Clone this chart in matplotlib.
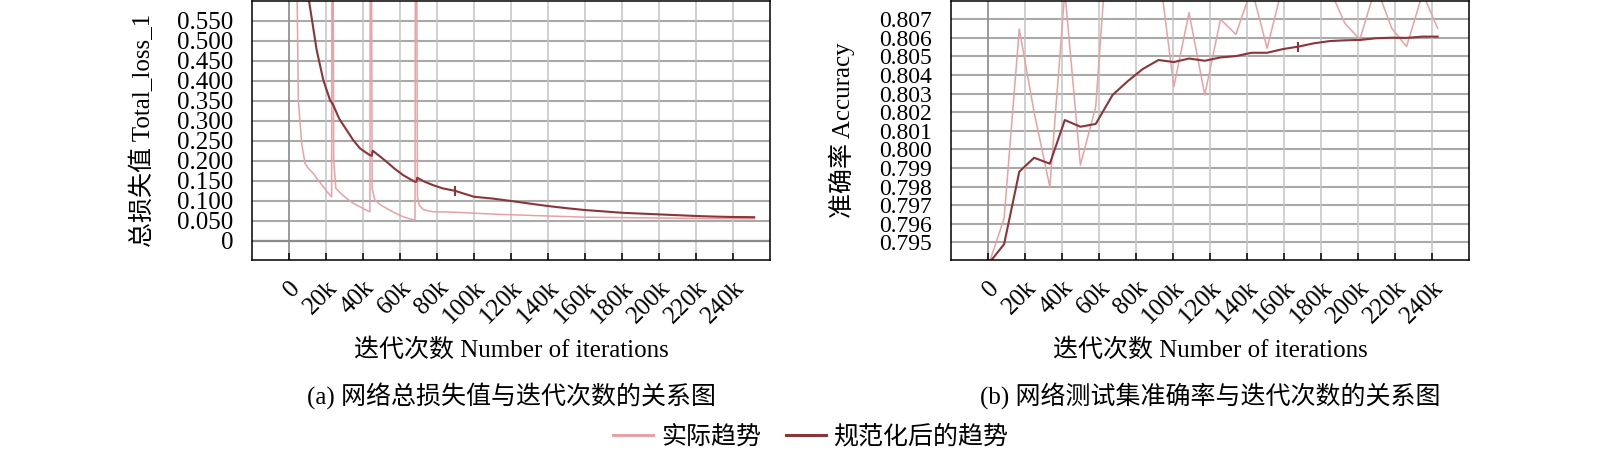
import matplotlib
matplotlib.use("Agg")
import matplotlib.pyplot as plt

plt.rcParams['font.family'] = ['Liberation Serif', 'Noto Sans CJK SC']
plt.rcParams['font.size'] = 18

RAW = '#e6a2a6'
SMOOTH = '#8a3539'

# iterations in thousands
x_ticks = [0, 20, 40, 60, 80, 100, 120, 140, 160, 180, 200, 220, 240]
x_tick_labels = ['0', '20k', '40k', '60k', '80k', '100k', '120k', '140k',
                 '160k', '180k', '200k', '220k', '240k']

loss_ticks = [0, 0.05, 0.10, 0.15, 0.20, 0.25, 0.30, 0.35, 0.40, 0.45, 0.50, 0.55]
loss_tick_labels = ['0', '0.050', '0.100', '0.150', '0.200', '0.250', '0.300',
                    '0.350', '0.400', '0.450', '0.500', '0.550']
acc_ticks = [0.795, 0.796, 0.797, 0.798, 0.799, 0.800, 0.801, 0.802, 0.803,
             0.804, 0.805, 0.806, 0.807]
acc_tick_labels = ['%.3f' % t for t in acc_ticks]

# raw total loss (restarts give the spikes)
loss_raw_x = [3.5, 4.9, 6.7, 8.5, 10.5, 13, 15.5, 18.4, 20.5, 22.9, 23.3, 24.0,
              25.2, 28, 31, 34.5, 38.2, 41, 43.6, 44.0, 44.8, 46.3, 49, 52.6,
              57, 61.6, 65, 68, 68.4, 69.3, 70.3, 72.4, 75, 77.8, 85, 92.3,
              100, 114, 130, 140, 160, 180, 200, 220, 251.4]
loss_raw_y = [0.9, 0.352, 0.2435, 0.1935, 0.18, 0.1685, 0.152, 0.135, 0.122,
              0.11, 1.5, 0.2, 0.131, 0.118, 0.106, 0.094, 0.085, 0.078, 0.0725,
              1.5, 0.13, 0.1018, 0.091, 0.081, 0.07, 0.06, 0.055, 0.052, 1.5,
              0.11, 0.089, 0.0785, 0.075, 0.0725, 0.072, 0.071, 0.069, 0.066,
              0.0635, 0.062, 0.059, 0.058, 0.057, 0.056, 0.055]

# smoothed total loss
loss_smooth_x = [10.0, 14.8, 18.4, 22.0, 23.0, 23.8, 27, 31, 34.5, 38.2, 41,
                 43.6, 44.6, 45.1, 48.5, 52.6, 57, 61.6, 65, 68, 68.8, 69.2,
                 73, 77.8, 83, 89.6, 95, 100, 110, 120, 130, 140, 150, 160,
                 170, 180, 190, 200, 210, 220, 230, 240, 251.4]
loss_smooth_y = [0.62, 0.4768, 0.4018, 0.352, 0.345, 0.339, 0.305, 0.2768,
                 0.252, 0.231, 0.222, 0.214, 0.2125, 0.225, 0.213, 0.1975,
                 0.18, 0.164, 0.155, 0.1475, 0.148, 0.1575, 0.148, 0.139,
                 0.131, 0.125, 0.117, 0.11, 0.1055, 0.0995, 0.093, 0.0868,
                 0.0815, 0.0768, 0.0735, 0.070, 0.068, 0.066, 0.064, 0.062,
                 0.0605, 0.0595, 0.059]
loss_mark = [25]

# test accuracy
acc_x = [0.6, 8.6, 16.8, 24.8, 33.3, 41.4, 49.8, 58.1, 67.2, 75.5, 83.4, 92.0,
         100.3, 108.5, 117.0, 125.5, 133.8, 142.3, 150.7, 159.3, 167.5, 176.0,
         184.6, 192.7, 200.8, 209.5, 218.0, 226.0, 234.7, 242.8]
acc_raw = [0.7939, 0.79629, 0.80648, 0.8020, 0.79799, 0.8085, 0.79916, 0.8023,
           0.8150, 0.8105, 0.8100, 0.8099, 0.80337, 0.80736, 0.80293, 0.8070,
           0.80619, 0.80867, 0.80544, 0.8089, 0.8095, 0.8092, 0.8086, 0.80678,
           0.80592, 0.8088, 0.80652, 0.80553, 0.8084, 0.80652]
acc_smooth = [0.7939, 0.7949, 0.7988, 0.79955, 0.79923, 0.80158, 0.80122,
              0.80137, 0.80293, 0.80368, 0.80432, 0.80481, 0.8047, 0.80489,
              0.80477, 0.80495, 0.80502, 0.8052, 0.8052, 0.8054, 0.80553,
              0.80571, 0.80583, 0.80587, 0.80589, 0.80598, 0.80601, 0.806,
              0.80607, 0.80607]
acc_mark = [20]

fig = plt.figure(figsize=(16, 4.54), dpi=100)
ax1 = fig.add_axes([0.1578, 0.4273, 0.3234, 0.5698])
ax2 = fig.add_axes([0.5946, 0.4273, 0.3237, 0.5698])


def style(ax, yticks, ylabels, ylim, ysize):
    ax.set_xlim(-19.9, 259.9)
    ax.set_ylim(*ylim)
    ax.set_xticks(x_ticks)
    ax.set_xticklabels(x_tick_labels, rotation=45, ha='right', va='top',
                       rotation_mode='anchor')
    ax.set_yticks(yticks)
    ax.set_yticklabels(ylabels, fontsize=ysize)
    ax.tick_params(axis='x', direction='in', length=5, width=1.1, pad=12)
    ax.tick_params(axis='y', length=0, pad=14)
    for y in yticks:
        ax.axhline(y, color='#a9a9a9', lw=1.5, zorder=0)
    for x in x_ticks:
        ax.axvline(x, color='#c4c4c4', lw=1.1, zorder=0)
    ax.axvline(0, color='#8c8c8c', lw=1.1, zorder=0)
    for s in ax.spines.values():
        s.set_linewidth(1.1)
    ax.xaxis.label.set_va('center')
    ax.xaxis.set_label_coords(0.5, -0.348)


style(ax1, loss_ticks, loss_tick_labels, (-0.048, 0.5985), 18)
ax1.axhline(0, color='#8a8a8a', lw=1.6, zorder=0)
ax1.plot(loss_raw_x, loss_raw_y, color=RAW, lw=1.1, label='实际趋势')
ax1.plot(loss_smooth_x, loss_smooth_y, color=SMOOTH, lw=1.5, marker='|',
         markevery=loss_mark, ms=7, mew=1.5, label='规范化后的趋势')
ax1.set_xlabel('迭代次数 Number of iterations')
ax1.set_ylabel('总损失值 Total_loss_1')
ax1.yaxis.set_label_coords(-0.188, 0.5)
ax1.text(0.5, -0.528, '(a) 网络总损失值与迭代次数的关系图', transform=ax1.transAxes,
         ha='center', va='center')

style(ax2, acc_ticks, acc_tick_labels, (0.794048, 0.807969), 17)
ax2.plot(acc_x, acc_raw, color=RAW, lw=1.1)
ax2.plot(acc_x, acc_smooth, color=SMOOTH, lw=1.5, marker='|',
         markevery=acc_mark, ms=7, mew=1.5)
ax2.set_xlabel('迭代次数 Number of iterations')
ax2.set_ylabel('准确率 Accuracy')
ax2.yaxis.set_label_coords(-0.187, 0.5)
ax2.text(0.5, -0.528, '(b) 网络测试集准确率与迭代次数的关系图', transform=ax2.transAxes,
         ha='center', va='center')

handles, labels = ax1.get_legend_handles_labels()
leg = fig.legend(handles, labels, loc='center', bbox_to_anchor=(0.5068, 0.038),
                 ncol=2, frameon=False, handlelength=1.6, handletextpad=0.3,
                 columnspacing=1.0)
for h in leg.legend_handles:
    h.set_marker('')
    h.set_linewidth(2.2)

fig.savefig('out.png', dpi=100)
